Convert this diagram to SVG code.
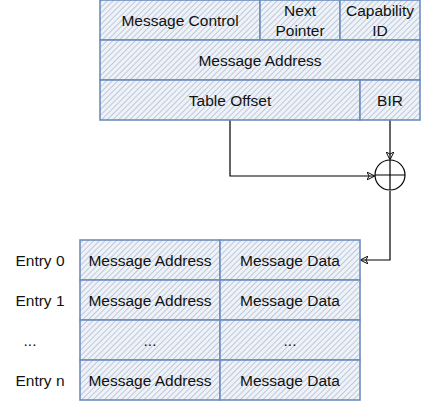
<svg xmlns="http://www.w3.org/2000/svg" width="423" height="404" viewBox="0 0 423 404">
<defs>
<pattern id="hatch" patternUnits="userSpaceOnUse" width="4" height="4" patternTransform="rotate(45)">
<rect width="4" height="4" fill="#eef3fb"/>
<line x1="0" y1="0" x2="0" y2="4" stroke="#9da4ae" stroke-width="1.1"/>
</pattern>
<marker id="arr" viewBox="0 0 10 10" refX="9" refY="5" markerWidth="8" markerHeight="8" orient="auto" markerUnits="userSpaceOnUse">
<path d="M0,0 L10,5 L0,10 L3,5 Z" fill="none" stroke="#000" stroke-width="1.2"/>
</marker>
</defs>
<style>
.cell{fill:url(#hatch);stroke:#6c8ebf;stroke-width:1.6}
.t{font-family:"Liberation Sans",Arial,sans-serif;font-size:15.5px;fill:#111;text-anchor:middle;dominant-baseline:central}
.c{fill:none;stroke:#000;stroke-width:1.2}
</style>
<g id="connectors">
<path class="c" d="M230,120 V176 H374" marker-end="url(#arr)"/>
<path class="c" d="M390,120 V159" marker-end="url(#arr)"/>
<path class="c" d="M390,191 V260 H361" marker-end="url(#arr)"/>
</g>
<g id="xor">
<circle cx="390" cy="175" r="15" fill="#fff" stroke="#000" stroke-width="1.2"/>
<path d="M375,175 H405 M390,160 V190" stroke="#000" stroke-width="1.2"/>
</g>
<g id="msg-control"><rect class="cell" x="100" y="0" width="160" height="40"/><text class="t" x="180" y="20">Message Control</text></g>
<g id="next-pointer"><rect class="cell" x="260" y="0" width="80" height="40"/><text class="t" x="300" y="10">Next</text><text class="t" x="300" y="30">Pointer</text></g>
<g id="capability-id"><rect class="cell" x="340" y="0" width="80" height="40"/><text class="t" x="380" y="10">Capability</text><text class="t" x="380" y="30">ID</text></g>
<g id="msg-address"><rect class="cell" x="100" y="40" width="320" height="40"/><text class="t" x="260" y="60">Message Address</text></g>
<g id="table-offset"><rect class="cell" x="100" y="80" width="260" height="40"/><text class="t" x="230" y="100">Table Offset</text></g>
<g id="bir"><rect class="cell" x="360" y="80" width="60" height="40"/><text class="t" x="390" y="100">BIR</text></g>
<g id="entry0">
<text class="t" x="40" y="260">Entry 0</text>
<rect class="cell" x="80" y="240" width="140" height="40"/><text class="t" x="150" y="260">Message Address</text>
<rect class="cell" x="220" y="240" width="140" height="40"/><text class="t" x="290" y="260">Message Data</text>
</g>
<g id="entry1">
<text class="t" x="40" y="300">Entry 1</text>
<rect class="cell" x="80" y="280" width="140" height="40"/><text class="t" x="150" y="300">Message Address</text>
<rect class="cell" x="220" y="280" width="140" height="40"/><text class="t" x="290" y="300">Message Data</text>
</g>
<g id="entry-dots">
<text class="t" x="30" y="340">...</text>
<rect class="cell" x="80" y="320" width="140" height="40"/><text class="t" x="150" y="340">...</text>
<rect class="cell" x="220" y="320" width="140" height="40"/><text class="t" x="290" y="340">...</text>
</g>
<g id="entryn">
<text class="t" x="40" y="380">Entry n</text>
<rect class="cell" x="80" y="360" width="140" height="40"/><text class="t" x="150" y="380">Message Address</text>
<rect class="cell" x="220" y="360" width="140" height="40"/><text class="t" x="290" y="380">Message Data</text>
</g>
</svg>
